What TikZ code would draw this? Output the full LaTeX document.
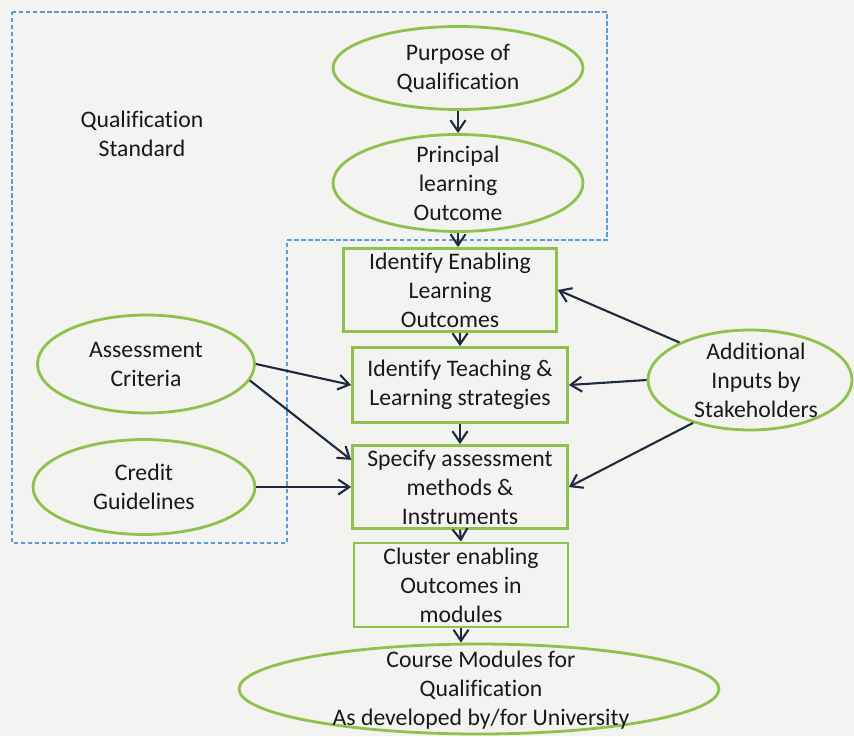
\documentclass[tikz,border=0pt]{standalone}
\usepackage{fontspec}
\setmainfont[Ligatures=CommonOff]{Carlito}
\usepackage{tikz}
\usetikzlibrary{shapes.geometric, arrows.meta}
\definecolor{leaf}{HTML}{8EC24C}
\definecolor{ink}{HTML}{1E2A40}
\definecolor{frame}{HTML}{5B9BD5}
\definecolor{paper}{HTML}{F3F3F1}
\tikzstyle{oval} = [ellipse, draw=leaf, line width=1.6pt, inner sep=0pt]
\tikzstyle{passo} = [rectangle, draw=leaf, line width=1.6pt, inner sep=0pt]
\tikzstyle{testo} = [align=center, text=black!90, font=\fontsize{13.5}{16.5}\selectfont]
\tikzstyle{arrow} = [line width=1.2pt, draw=ink, -{Straight Barb[length=2.2mm,width=3mm]}]

\begin{document}
\begin{tikzpicture}[x=0.02cm,y=-0.02cm]
	\fill[paper] (0,0) rectangle (854,736);
	\useasboundingbox (0,0) rectangle (854,736);
	% dashed outline of the standard
	\draw[frame, line width=0.6pt, dash pattern=on 2.5pt off 1.5pt] (12,12) -- (607,12) -- (607,240) -- (287,240) -- (287,543) -- (12,543) -- cycle;
	\node (qs) at (142,134) [testo] {Qualification\\Standard};
	% central column
	\node (po) at (458,68) [oval, minimum width=5cm, minimum height=1.66cm] {};
	\node at (po) [testo] {Purpose of\\Qualification};
	\node (pl) at (458,183) [oval, minimum width=5cm, minimum height=1.94cm] {};
	\node at (pl) [testo] {Principal\\learning\\Outcome};
	\node (en) at (450,290) [passo, minimum width=4.26cm, minimum height=1.66cm] {};
	\node at (en) [testo] {Identify Enabling\\Learning\\Outcomes};
	\node (tl) at (460,385) [passo, minimum width=4.3cm, minimum height=1.5cm] {};
	\node at (tl) [testo] {Identify Teaching \&\\Learning strategies};
	\node (sp) at (460,487) [passo, minimum width=4.3cm, minimum height=1.66cm] {};
	\node at (sp) [testo] {Specify assessment\\methods \&\\Instruments};
	\node (cl) at (461,585) [passo, minimum width=4.28cm, minimum height=1.68cm] {};
	\node at (cl) [testo] {Cluster enabling\\Outcomes in\\modules};
	\node (cm) at (479,689) [oval, minimum width=9.6cm, minimum height=1.8cm] {};
	\node at (481,690) [testo] {Course Modules for\\Qualification\\As developed by/for University};
	% side inputs
	\node (ac) at (146,364) [oval, minimum width=4.34cm, minimum height=1.96cm] {};
	\node at (ac) [testo] {Assessment\\Criteria};
	\node (cg) at (144,487) [oval, minimum width=4.44cm, minimum height=1.9cm] {};
	\node at (cg) [testo] {Credit\\Guidelines};
	\node (ad) at (750,380) [oval, minimum width=4.08cm, minimum height=2cm] {};
	\node at (756,380) [testo] {Additional\\Inputs by\\Stakeholders};
	% connectors
	\draw[arrow] (po.south) -- (pl.north);
	\draw[arrow] (pl.south) -- (pl.south |- en.north);
	\draw[arrow] (tl.north |- en.south) -- (tl.north);
	\draw[arrow] (tl.south) -- (sp.north);
	\draw[arrow] (sp.south) -- (cl.north);
	\draw[arrow] (cl.south) -- (cl.south |- cm.north);
	\draw[arrow] (ac.east) -- (tl.west);
	\draw[arrow] (ac.-9) -- (sp.166);
	\draw[arrow] (cg.east) -- (sp.west);
	\draw[arrow] (ad.152) -- (en.east);
	\draw[arrow] (ad.west) -- (tl.east);
	\draw[arrow] (ad.217) -- (sp.east);
\end{tikzpicture}
\end{document}
